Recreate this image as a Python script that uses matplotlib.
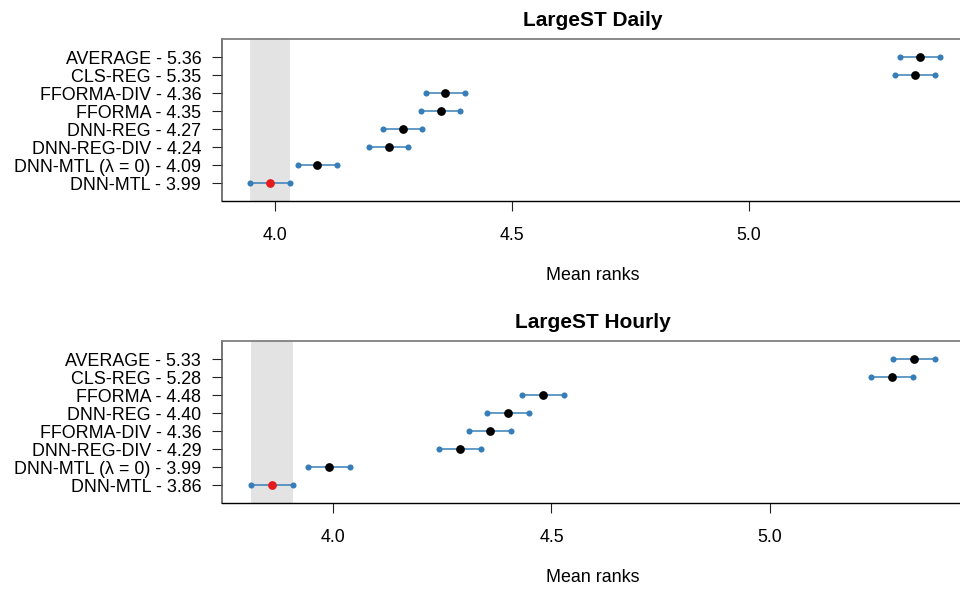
import matplotlib
matplotlib.use("Agg")
import matplotlib.pyplot as plt

plt.rcParams['font.family'] = ['Liberation Sans', 'DejaVu Sans']

# method names and mean ranks, listed top to bottom as shown
daily_names = ['AVERAGE', 'CLS-REG', 'FFORMA-DIV', 'FFORMA', 'DNN-REG',
               'DNN-REG-DIV', 'DNN-MTL (λ = 0)', 'DNN-MTL']
daily_ranks = [5.36, 5.35, 4.36, 4.35, 4.27, 4.24, 4.09, 3.99]
daily_ci = 0.0415

hourly_names = ['AVERAGE', 'CLS-REG', 'FFORMA', 'DNN-REG', 'FFORMA-DIV',
                'DNN-REG-DIV', 'DNN-MTL (λ = 0)', 'DNN-MTL']
hourly_ranks = [5.33, 5.28, 4.48, 4.40, 4.36, 4.29, 3.99, 3.86]
hourly_ci = 0.048

x_ticks = [4.0, 4.5, 5.0]

BLUE = '#377eb8'
RED = '#e41a1c'


def draw_panel(ax, title, names, ranks, ci, xlim):
    n = len(names)
    ys = [n - i for i in range(n)]
    best = min(ranks)

    ax.axvspan(best - ci, best + ci, color='#e3e3e3', lw=0, zorder=0)

    for y, r in zip(ys, ranks):
        ax.plot([r - ci, r + ci], [y, y], color=BLUE, lw=1.1, zorder=2)
        ax.plot([r - ci, r + ci], [y, y], 'o', color=BLUE, ms=4.4,
                mec='none', zorder=3)
        c = RED if r == best else 'black'
        ax.plot(r, y, 'o', color=c, ms=6.3, mec='none', zorder=4)

    ax.set_xlim(*xlim)
    ax.set_ylim(0, n + 1)
    ax.set_yticks(ys)
    ax.set_yticklabels([f'{nm} - {r:.2f}' for nm, r in zip(names, ranks)])
    ax.set_xticks(x_ticks)
    ax.set_xticklabels([f'{t:.1f}' for t in x_ticks])
    ax.tick_params(axis='both', direction='out', length=7.5, width=0.8,
                   labelsize=12.9, color='#222222')
    ax.tick_params(axis='x', pad=11)
    ax.tick_params(axis='y', pad=7.5)

    ax.spines['right'].set_visible(False)
    ax.spines['top'].set_color('#808080')
    ax.spines['top'].set_linewidth(1.3)
    ax.spines['left'].set_color('#505050')
    ax.spines['left'].set_linewidth(1.1)
    ax.spines['bottom'].set_color('black')
    ax.spines['bottom'].set_linewidth(1.0)

    ax.set_title(title, fontsize=15, fontweight='bold', pad=9.5)
    ax.text(0.5, -0.457, 'Mean ranks', transform=ax.transAxes,
            ha='center', va='center', fontsize=12.9)


fig = plt.figure(figsize=(9.6, 5.9), dpi=100)
ax1 = fig.add_axes([222 / 960, 1 - 201 / 590, 742 / 960, 162 / 590])
ax2 = fig.add_axes([222 / 960, 1 - 503 / 590, 742 / 960, 162 / 590])

draw_panel(ax1, 'LargeST Daily', daily_names, daily_ranks, daily_ci,
           (3.889, 5.453))
draw_panel(ax2, 'LargeST Hourly', hourly_names, hourly_ranks, hourly_ci,
           (3.746, 5.444))

fig.savefig('out.png', dpi=100)
